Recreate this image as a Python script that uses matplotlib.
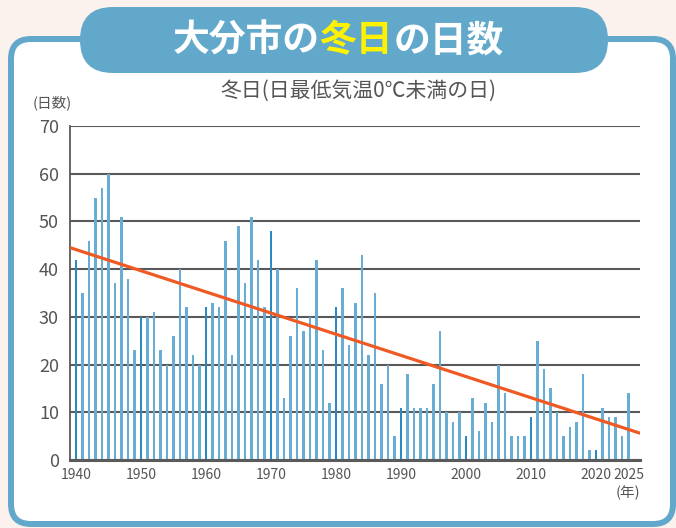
import numpy as np
from matplotlib import pyplot as plt
from matplotlib.patches import FancyBboxPatch

plt.rcParams['font.family'] = ['Noto Sans CJK JP', 'DejaVu Sans']

years = np.arange(1940, 2026)
days = [42, 35, 46, 55, 57, 60, 37, 51, 38, 23,
        30, 30, 31, 23, 20, 26, 40, 32, 22, 20,
        32, 33, 32, 46, 22, 49, 37, 51, 42, 32,
        48, 40, 13, 26, 36, 27, 30, 42, 23, 12,
        32, 36, 24, 33, 43, 22, 35, 16, 20, 5,
        11, 18, 11, 11, 11, 16, 27, 10, 8, 10,
        5, 13, 6, 12, 8, 20, 14, 5, 5, 5,
        9, 25, 19, 15, 10, 5, 7, 8, 18, 2,
        2, 11, 9, 9, 5, 14]
trend_years = [1939.1, 2026.8]
trend_days = [44.5, 5.6]
tick_years = [1940, 1950, 1960, 1970, 1980, 1990, 2000, 2010, 2020, 2025]

light_blue = "#68aed4"
dark_blue = "#2a8bc2"
frame_blue = "#62a8cb"
grid_col = "#5a5a5a"
text_col = "#555555"

W, H = 676, 528
fig = plt.figure(figsize=(W / 100, H / 100), dpi=100)
fig.patch.set_facecolor("#fcf2ed")

# background panel in pixel units
bg = fig.add_axes([0, 0, 1, 1], zorder=0)
bg.set_xlim(0, W)
bg.set_ylim(H, 0)
bg.axis("off")
panel = FancyBboxPatch((11, 39), 662, 485, boxstyle="round,pad=0,rounding_size=20",
                       fc="white", ec=frame_blue, lw=4.3)
bg.add_patch(panel)
pill = FancyBboxPatch((80, 7), 528, 66, boxstyle="round,pad=0,rounding_size=33",
                      fc=frame_blue, ec="none")
bg.add_patch(pill)

# title with highlighted part
parts = [("大分市の", "white"), ("冬日", "#fff200"), ("の日数", "white")]
title_size = 26.5
t = bg.text(0, 0, "".join(p[0] for p in parts), fontsize=title_size, fontweight="bold")
fig.canvas.draw()
total_w = t.get_window_extent().width
t.remove()
x = W / 2 - total_w / 2
for s, c in parts:
    tt = bg.text(x, 41, s, fontsize=title_size, fontweight="bold", color=c,
                 ha="left", va="center")
    fig.canvas.draw()
    x += tt.get_window_extent().width

bg.text(358, 91, "冬日(日最低気温0℃未満の日)", fontsize=15, color=text_col,
        ha="center", va="center")
bg.text(52, 103, "(日数)", fontsize=10.5, color=text_col, ha="center", va="center")
bg.text(628, 493, "(年)", fontsize=10.5, color=text_col, ha="center", va="center")

ax = fig.add_axes([70 / W, 1 - 460 / H, 570 / W, 334 / H], zorder=1)
ax.patch.set_alpha(0)
colors = [dark_blue if y % 10 == 0 else light_blue for y in years]
ax.bar(years, days, width=0.45, color=colors, zorder=2)
ax.plot(trend_years, trend_days, color="#ef5a24", lw=2.3, zorder=3,
        solid_capstyle="butt")

ax.set_xlim(1939.08, 2026.77)
ax.set_ylim(0, 70)
ax.set_yticks(range(0, 71, 10))
ax.set_xticks(tick_years)
ax.grid(axis="y", color=grid_col, lw=1.5, zorder=1)
ax.tick_params(length=0, colors=text_col)
ax.tick_params(axis="y", labelsize=13, pad=8)
ax.tick_params(axis="x", labelsize=10, pad=6)
for side in ["top", "right"]:
    ax.spines[side].set_visible(False)
ax.spines["left"].set_color(grid_col)
ax.spines["left"].set_linewidth(1.3)
ax.spines["bottom"].set_color(grid_col)
ax.spines["bottom"].set_linewidth(2.2)
ax.spines["bottom"].set_zorder(4)

fig.savefig("out.png", dpi=100, facecolor=fig.get_facecolor())
